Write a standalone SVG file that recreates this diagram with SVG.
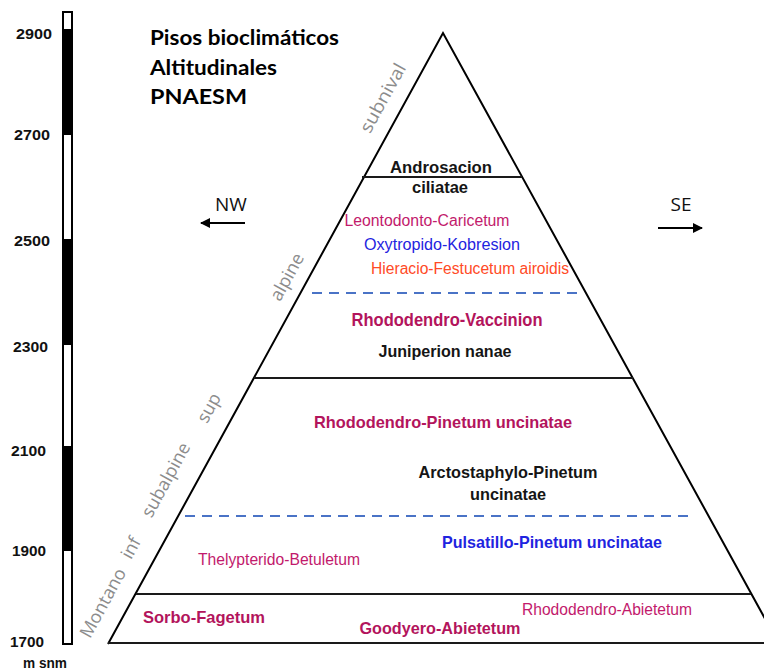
<svg xmlns="http://www.w3.org/2000/svg" width="764" height="671" viewBox="0 0 764 671">
<style>
.sc{font-family:"Liberation Sans",Arial,sans-serif;font-weight:bold;font-size:15px;fill:#111}
.ti{font-family:Lato,"Open Sans",sans-serif;font-weight:bold;font-size:21px;fill:#000}
.zl{font-family:"Open Sans","Liberation Sans",sans-serif;font-size:18px;fill:#8c8c8c}
.lb{font-family:"Liberation Sans",Arial,sans-serif;font-weight:bold;text-anchor:middle}
.lr{font-family:"Liberation Sans",Arial,sans-serif;text-anchor:middle}
.mag{fill:#b3145c}
.mag2{fill:#c21a6c}
.blu{fill:#1f24e0}
.org{fill:#ff4a26}
.blk{fill:#151515}
.edge{stroke:#000;stroke-width:2;fill:none}
.hl{stroke:#1a1a1a;stroke-width:2;fill:none}
.dash{stroke:#4a73c6;stroke-width:2;stroke-dasharray:10 7;fill:none}
.arr{stroke:#000;stroke-width:2;fill:none}
.dir{font-family:"Open Sans","Liberation Sans",sans-serif;font-size:19px;fill:#111}
</style>
<defs>
<marker id="ah" viewBox="0 0 10 10" refX="9" refY="5" markerWidth="5" markerHeight="5" orient="auto" markerUnits="strokeWidth">
<path d="M0,0 L10,5 L0,10 z" fill="#000"/>
</marker>
</defs>
<rect width="764" height="671" fill="#fff"/>

<g id="scale">
<rect x="63" y="12" width="9" height="632" fill="#fff" stroke="#000" stroke-width="2"/>
<rect x="63" y="29" width="9" height="106" fill="#000"/>
<rect x="63" y="239" width="9" height="106" fill="#000"/>
<rect x="63" y="446" width="9" height="105" fill="#000"/>
<text class="sc" x="16" y="39" textLength="36" lengthAdjust="spacingAndGlyphs">2900</text>
<text class="sc" x="14" y="140" textLength="36" lengthAdjust="spacingAndGlyphs">2700</text>
<text class="sc" x="14" y="246" textLength="36" lengthAdjust="spacingAndGlyphs">2500</text>
<text class="sc" x="13" y="352" textLength="35" lengthAdjust="spacingAndGlyphs">2300</text>
<text class="sc" x="11" y="456" textLength="35" lengthAdjust="spacingAndGlyphs">2100</text>
<text class="sc" x="12" y="556" textLength="34" lengthAdjust="spacingAndGlyphs">1900</text>
<text class="sc" x="10" y="647" textLength="34" lengthAdjust="spacingAndGlyphs">1700</text>
<text class="sc" x="23" y="668" textLength="44" lengthAdjust="spacingAndGlyphs">m snm</text>
</g>

<g id="title">
<text class="ti" x="150" y="45" textLength="189" lengthAdjust="spacingAndGlyphs">Pisos bioclimáticos</text>
<text class="ti" x="150" y="75" textLength="127" lengthAdjust="spacingAndGlyphs">Altitudinales</text>
<text class="ti" x="150" y="104" textLength="97" lengthAdjust="spacingAndGlyphs">PNAESM</text>
</g>

<g id="connectors">
<path class="edge" d="M108,644 L443,33 L785,655"/>
<line class="hl" x1="108" y1="643" x2="764" y2="643"/>
<line class="hl" x1="362" y1="177" x2="522" y2="177"/>
<line class="hl" x1="254" y1="378" x2="633" y2="378"/>
<line class="hl" x1="136" y1="594" x2="751" y2="594"/>
<line class="dash" x1="312" y1="293" x2="580" y2="293"/>
<line class="dash" x1="185" y1="516" x2="695" y2="516"/>
<line class="arr" x1="245" y1="223" x2="201" y2="223" marker-end="url(#ah)"/>
<line class="arr" x1="658" y1="228" x2="702" y2="228" marker-end="url(#ah)"/>
</g>

<g id="directions">
<text class="dir" x="231" y="211" text-anchor="middle">NW</text>
<text class="dir" x="681" y="211" text-anchor="middle">SE</text>
</g>

<g id="zones">
<text class="zl" text-anchor="middle" transform="translate(383,98) rotate(-61.3)" y="6" textLength="76" lengthAdjust="spacingAndGlyphs">subnival</text>
<text class="zl" text-anchor="middle" transform="translate(287,277) rotate(-61.3)" y="6">alpine</text>
<text class="zl" text-anchor="middle" transform="translate(209,408) rotate(-61.3)" y="6">sup</text>
<text class="zl" text-anchor="middle" transform="translate(166,480) rotate(-61.3)" y="6">subalpine</text>
<text class="zl" text-anchor="middle" transform="translate(131,548) rotate(-61.3)" y="6">inf</text>
<text class="zl" text-anchor="middle" transform="translate(103,603) rotate(-61.3)" y="6">Montano</text>
</g>

<g id="subnival-level">
<text class="lb blk" x="441" y="173" font-size="17" textLength="102" lengthAdjust="spacingAndGlyphs">Androsacion</text>
<text class="lb blk" x="440" y="193" font-size="17" textLength="56" lengthAdjust="spacingAndGlyphs">ciliatae</text>
</g>

<g id="alpine-upper">
<text class="lr mag2" x="427" y="226" font-size="16" textLength="165" lengthAdjust="spacingAndGlyphs">Leontodonto-Caricetum</text>
<text class="lr blu" x="442" y="250" font-size="16" textLength="156" lengthAdjust="spacingAndGlyphs">Oxytropido-Kobresion</text>
<text class="lr org" x="470" y="274" font-size="16" textLength="198" lengthAdjust="spacingAndGlyphs">Hieracio-Festucetum airoidis</text>
</g>

<g id="alpine-lower">
<text class="lb mag" x="447" y="326" font-size="18" textLength="191" lengthAdjust="spacingAndGlyphs">Rhododendro-Vaccinion</text>
<text class="lb blk" x="445" y="357" font-size="17" textLength="133" lengthAdjust="spacingAndGlyphs">Juniperion nanae</text>
</g>

<g id="subalpine-sup">
<text class="lb mag" x="443" y="428" font-size="17" textLength="258" lengthAdjust="spacingAndGlyphs">Rhododendro-Pinetum uncinatae</text>
<text class="lb blk" x="508" y="478" font-size="17" textLength="179" lengthAdjust="spacingAndGlyphs">Arctostaphylo-Pinetum</text>
<text class="lb blk" x="508" y="500" font-size="17" textLength="76" lengthAdjust="spacingAndGlyphs">uncinatae</text>
</g>

<g id="subalpine-inf">
<text class="lb blu" x="552" y="548" font-size="17" textLength="220" lengthAdjust="spacingAndGlyphs">Pulsatillo-Pinetum uncinatae</text>
<text class="lr mag2" x="279" y="565" font-size="16" textLength="162" lengthAdjust="spacingAndGlyphs">Thelypterido-Betuletum</text>
</g>

<g id="montano">
<text class="lb mag" x="204" y="623" font-size="17" textLength="122" lengthAdjust="spacingAndGlyphs">Sorbo-Fagetum</text>
<text class="lb mag" x="440" y="634" font-size="17" textLength="161" lengthAdjust="spacingAndGlyphs">Goodyero-Abietetum</text>
<text class="lr mag2" x="607" y="615" font-size="16" textLength="170" lengthAdjust="spacingAndGlyphs">Rhododendro-Abietetum</text>
</g>
</svg>
